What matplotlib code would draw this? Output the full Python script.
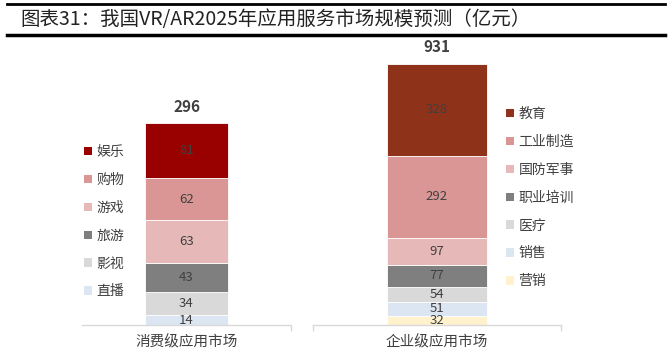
"""
我国VR/AR2025年应用服务市场规模预测 - two stacked bars on separate axes
"""
import matplotlib
matplotlib.use('Agg')
import matplotlib.pyplot as plt
from matplotlib.patches import Patch
from matplotlib.lines import Line2D

plt.rcParams['font.family'] = ['Noto Sans CJK SC', 'DejaVu Sans']

#%% Data #######################################################################
title = '图表31：我国VR/AR2025年应用服务市场规模预测（亿元）'

consumer_label = '消费级应用市场'
consumer_cats = ['直播', '影视', '旅游', '游戏', '购物', '娱乐']   # bottom -> top
consumer_vals = [14, 34, 43, 63, 62, 81]
consumer_total = 296

enterprise_label = '企业级应用市场'
enterprise_cats = ['营销', '销售', '医疗', '职业培训', '国防军事', '工业制造', '教育']
enterprise_vals = [32, 51, 54, 77, 97, 292, 328]
enterprise_total = 931

consumer_colors = ['#DCE6F2', '#D9D9D9', '#7F7F7F', '#E6B9B8', '#D99694', '#990000']
enterprise_colors = ['#FFF2CC', '#DCE6F2', '#D9D9D9', '#7F7F7F', '#E6B9B8', '#D99694', '#8E3219']

TXT = '#404040'

#%% Plot #######################################################################
W, H = 672, 358
fig = plt.figure(figsize=(W / 100, H / 100), dpi=100)


def px_axes(x0, y_top, x1, y_bot):
    return fig.add_axes([x0 / W, 1 - y_bot / H, (x1 - x0) / W, (y_bot - y_top) / H])


def stacked(ax, label, vals, colors, total, ymax, ticks_at):
    bottom = 0
    for v, c in zip(vals, colors):
        ax.bar(0, v, width=0.4, bottom=bottom, color=c, edgecolor='white', linewidth=0.6)
        ax.text(0, bottom + v / 2, str(v), ha='center', va='center',
                fontsize=9.5, color=TXT)
        bottom += v
    ax.annotate(str(total), (0, bottom), xytext=(0, 12), textcoords='offset points',
                ha='center', va='center', fontsize=11, fontweight='bold', color=TXT)
    ax.set_xlim(-0.5, 0.5)
    ax.set_ylim(0, ymax)
    for s in ['top', 'right', 'left']:
        ax.spines[s].set_visible(False)
    ax.spines['bottom'].set_color('#D9D9D9')
    ax.spines['bottom'].set_linewidth(1.0)
    ax.set_yticks([])
    ax.set_xticks([0])
    ax.set_xticklabels([label], fontsize=10.5, color=TXT)
    ax.tick_params(axis='x', which='major', length=0, pad=7)
    ax.set_xticks(ticks_at, minor=True)
    ax.tick_params(axis='x', which='minor', length=4, color='#D9D9D9', width=1.0)
    ax.set_facecolor('none')


# left: consumer
ax1 = px_axes(82, 35, 291, 325)
stacked(ax1, consumer_label, consumer_vals, consumer_colors, consumer_total,
        consumer_total * 290 / 201, [0.5])

# right: enterprise
ax2 = px_axes(313, 35, 561, 325)
stacked(ax2, enterprise_label, enterprise_vals, enterprise_colors, enterprise_total,
        enterprise_total * 290 / 261, [-0.5, 0.5])


def legend(cats, colors, loc_px, spacing):
    handles = [Patch(facecolor=c, edgecolor='none') for c in colors[::-1]]
    leg = fig.legend(handles, cats[::-1], loc='upper left',
                     bbox_to_anchor=(loc_px[0] / W, 1 - loc_px[1] / H),
                     frameon=False, fontsize=10, handlelength=0.55, handleheight=0.55,
                     handletextpad=0.35, labelspacing=spacing, borderpad=0, borderaxespad=0)
    for t in leg.get_texts():
        t.set_color(TXT)


legend(consumer_cats, consumer_colors, (84, 145), 1.0)
legend(enterprise_cats, enterprise_colors, (506, 107), 1.0)

# title with rules
fig.text(20 / W, 1 - 20 / H, title, ha='left', va='center', fontsize=14, color='#222222')
fig.add_artist(Line2D([7 / W, 665 / W], [1 - 4 / H, 1 - 4 / H], color='black', linewidth=2))
fig.add_artist(Line2D([7 / W, 665 / W], [1 - 35 / H, 1 - 35 / H], color='black', linewidth=2.5))

fig.savefig('out.png', dpi=100)
